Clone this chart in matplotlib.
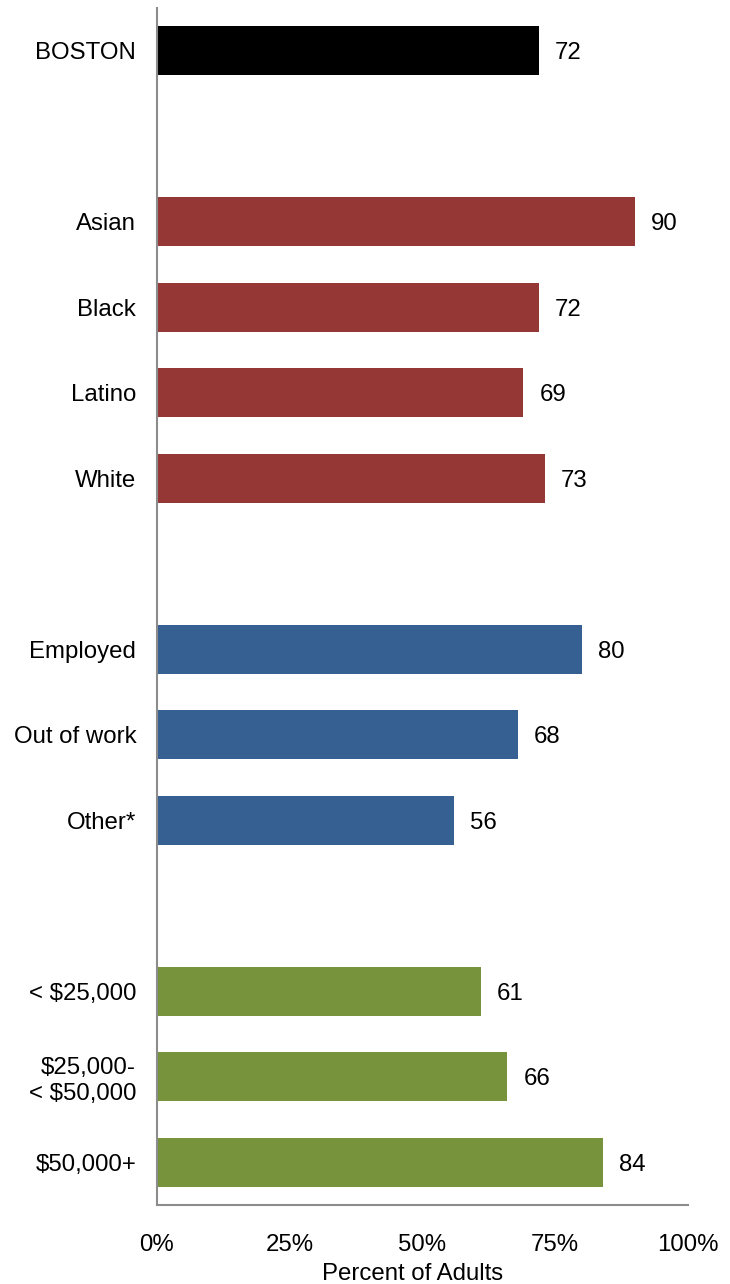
import matplotlib
matplotlib.use("Agg")
import matplotlib.pyplot as plt
from matplotlib.ticker import FuncFormatter

plt.rcParams['font.family'] = ['Liberation Sans', 'DejaVu Sans']

categories = ["BOSTON", "", "Asian", "Black", "Latino", "White", "",
              "Employed", "Out of work", "Other*", "",
              "< $25,000", "$25,000-\n< $50,000", "$50,000+"]
values = [72, None, 90, 72, 69, 73, None, 80, 68, 56, None, 61, 66, 84]
groups = ["total", None, "race", "race", "race", "race", None,
          "emp", "emp", "emp", None, "inc", "inc", "inc"]
group_colors = {"total": "#000000", "race": "#953735", "emp": "#376092", "inc": "#77933C"}
x_ticks = [0, 25, 50, 75, 100]

FS = 17.3
fig = plt.figure(figsize=(7.30, 12.84), dpi=100)
ax = fig.add_axes([157/730, 1 - 1205/1284, (688-157)/730, (1205-8)/1284])

for i, (v, g) in enumerate(zip(values, groups)):
    if v is None:
        continue
    ax.barh(i, v, height=0.57, color=group_colors[g])
    ax.text(v + 3.0, i, f"{v}", va="center_baseline", ha="left", fontsize=FS, color="black")

ax.set_xlim(0, 100)
ax.set_ylim(len(categories) - 0.5, -0.5)
ax.set_xticks(x_ticks)
ax.xaxis.set_major_formatter(FuncFormatter(lambda x, p: f"{int(x)}%"))
ax.set_yticks(range(len(categories)))
ax.set_yticklabels(categories, fontsize=FS, linespacing=1.2)
ax.tick_params(axis="y", length=0, pad=15)
ax.tick_params(axis="x", length=0, pad=21, labelsize=FS)
for s in ["top", "right"]:
    ax.spines[s].set_visible(False)
for s in ["left", "bottom"]:
    ax.spines[s].set_color("#8c8c8c")
    ax.spines[s].set_linewidth(1.5)
fig.text(413/730, 1 - 1274/1284, "Percent of Adults", ha="center", va="center", fontsize=FS)

fig.savefig("out.png", dpi=100)
